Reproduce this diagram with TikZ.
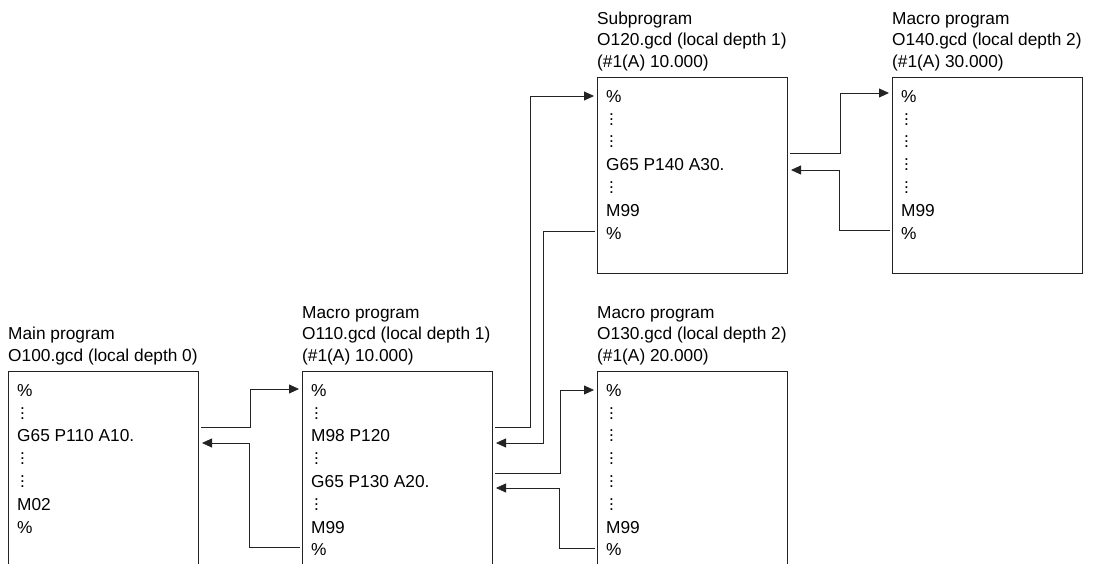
\documentclass[tikz,border=0pt]{standalone}
\usepackage{fontspec}
\setmainfont{Liberation Sans}
\usetikzlibrary{arrows.meta, positioning}
\definecolor{LineGray}{RGB}{35, 35, 35}

% vertical ellipsis made of three stacked periods
\newcommand\vdts{\hspace*{3pt}\vbox{\baselineskip=5pt\lineskiplimit=0pt\hbox{.}\hbox{.}\hbox{.}}}

\begin{document}
\begin{tikzpicture}[
    x=1pt, y=-1pt,
    prog/.style={draw=LineGray, line width=1pt, minimum width=190pt, inner sep=0pt},
    code/.style={anchor=north west, align=left, inner sep=0pt, font=\fontsize{17.3}{22.8}\selectfont},
    head/.style={anchor=south west, align=left, inner sep=0pt, font=\fontsize{17.3}{21.5}\selectfont},
    call/.style={draw=LineGray, line width=0.8pt, -{Triangle[length=10pt,width=9pt]}, shorten >=3pt, shorten <=2pt}
]
    \useasboundingbox (0,0) rectangle (1098,564);
    \clip (0,0) rectangle (1098,564);

    % program boxes
    \node[prog, minimum height=240pt, anchor=north west] (main) at (8,371) {};
    \node[prog, minimum height=240pt, right=103pt of main.north east, anchor=north west] (mac1) {};
    \node[prog, minimum height=240pt, right=104pt of mac1.north east, anchor=north west] (mac2) {};
    \node[prog, minimum height=196pt, anchor=north west] (sub) at (597,77) {};
    \node[prog, minimum height=196pt, right=104pt of sub.north east, anchor=north west] (mac3) {};

    % headings
    \node[head] (mainh) at ([yshift=6pt]main.north west) {Main program\\ O100.gcd (local depth 0)};
    \node[head] (mac1h) at ([yshift=6pt]mac1.north west) {Macro program\\ O110.gcd (local depth 1)\\ (\#1(A) 10.000)};
    \node[head] (mac2h) at ([yshift=6pt]mac2.north west) {Macro program\\ O130.gcd (local depth 2)\\ (\#1(A) 20.000)};
    \node[head] (subh) at ([yshift=6pt]sub.north west) {Subprogram\\ O120.gcd (local depth 1)\\ (\#1(A) 10.000)};
    \node[head] (mac3h) at ([yshift=6pt]mac3.north west) {Macro program\\ O140.gcd (local depth 2)\\ (\#1(A) 30.000)};

    % listings
    \node[code] (mainc) at ([xshift=9pt,yshift=-13pt]main.north west) {\%\\ \vdts\\ G65 P110 A10.\\ \vdts\\ \vdts\\ M02\\ \%};
    \node[code] (mac1c) at ([xshift=9pt,yshift=-13pt]mac1.north west) {\%\\ \vdts\\ M98 P120\\ \vdts\\ G65 P130 A20.\\ \vdts\\ M99\\ \%};
    \node[code] (mac2c) at ([xshift=9pt,yshift=-13pt]mac2.north west) {\%\\ \vdts\\ \vdts\\ \vdts\\ \vdts\\ \vdts\\ M99\\ \%};
    \node[code] (subc) at ([xshift=9pt,yshift=-13pt]sub.north west) {\%\\ \vdts\\ \vdts\\ G65 P140 A30.\\ \vdts\\ M99\\ \%};
    \node[code] (mac3c) at ([xshift=9pt,yshift=-13pt]mac3.north west) {\%\\ \vdts\\ \vdts\\ \vdts\\ \vdts\\ M99\\ \%};

    % calls and returns
    \draw[call] ([yshift=-56pt]main.north east) -- ++(51,0) |- ([yshift=-18pt]mac1.north west);
    \draw[call] ([yshift=-176pt]mac1.north west) -- ++(-53,0) |- ([yshift=-72pt]main.north east);
    \draw[call] ([yshift=-56pt]mac1.north east) -- ++(37,0) |- ([yshift=-19pt]sub.north west);
    \draw[call] ([yshift=-154pt]sub.north west) -- ++(-54,0) |- ([yshift=-72pt]mac1.north east);
    \draw[call] ([yshift=-102pt]mac1.north east) -- ++(67,0) |- ([yshift=-19pt]mac2.north west);
    \draw[call] ([yshift=-177pt]mac2.north west) -- ++(-38,0) |- ([yshift=-117pt]mac1.north east);
    \draw[call] ([yshift=-76pt]sub.north east) -- ++(52,0) |- ([yshift=-16pt]mac3.north west);
    \draw[call] ([yshift=-153pt]mac3.north west) -- ++(-53,0) |- ([yshift=-93pt]sub.north east);
\end{tikzpicture}
\end{document}
